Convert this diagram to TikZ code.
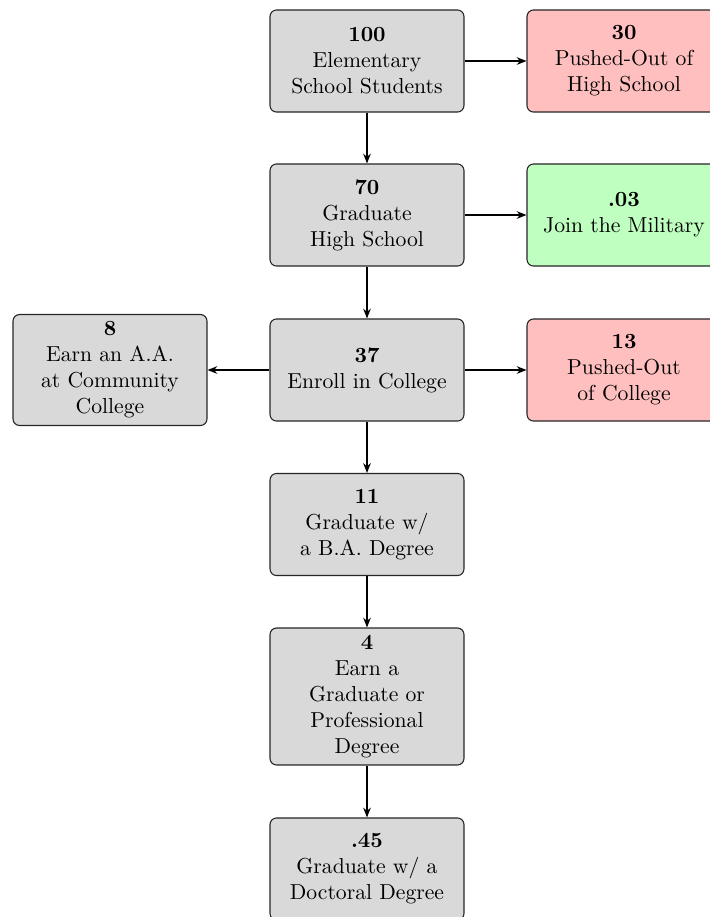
\documentclass[tikz,border=0pt]{standalone}
\usetikzlibrary{arrows.meta}
\definecolor{boxgray}{RGB}{217,217,217}
\definecolor{boxred}{RGB}{255,191,191}
\definecolor{boxgreen}{RGB}{191,255,191}
\tikzset{
  stagebox/.style={draw=black!85, line width=0.5pt, rounded corners=3pt, fill=boxgray,
    minimum width=89.5pt, minimum height=47.1pt, align=center, inner sep=2pt},
  redbox/.style={stagebox, fill=boxred},
  greenbox/.style={stagebox, fill=boxgreen},
  flow/.style={line width=0.7pt, -{Stealth[length=4.5pt,width=3.5pt]}}
}
\begin{document}
\begin{tikzpicture}[x=0.4615pt,y=-0.4615pt]
\useasboundingbox (0,0) rectangle (710,917);
\clip (0,0) rectangle (710,917);
\node[stagebox] (a) at (367,61) {\textbf{100}\\Elementary\\School Students};
\node[redbox] (ar) at (624,61) {\textbf{30}\\Pushed-Out of\\High School};
\node[stagebox] (b) at (367,215) {\textbf{70}\\Graduate\\High School};
\node[greenbox] (br) at (624,215) {\textbf{.03}\\Join the Military};
\node[stagebox] (c) at (367,370) {\textbf{37}\\Enroll in College};
\node[redbox] (cr) at (624,370) {\textbf{13}\\Pushed-Out\\of College};
\node[stagebox, minimum height=51.2pt] (cl) at (110,370) {\textbf{8}\\Earn an A.A.\\at Community\\College};
\node[stagebox] (d) at (367,524.5) {\textbf{11}\\Graduate w/\\a B.A. Degree};
\node[stagebox, minimum height=63.2pt] (e) at (367,696.5) {\textbf{4}\\Earn a\\Graduate or\\Professional\\Degree};
\node[stagebox] (f) at (367,869) {\textbf{.45}\\Graduate w/ a\\Doctoral Degree};
\draw[flow] (a) -- (ar);
\draw[flow] (a) -- (b);
\draw[flow] (b) -- (br);
\draw[flow] (b) -- (c);
\draw[flow] (c) -- (cr);
\draw[flow] (c) -- (cl);
\draw[flow] (c) -- (d);
\draw[flow] (d) -- (e);
\draw[flow] (e) -- (f);
\end{tikzpicture}
\end{document}
